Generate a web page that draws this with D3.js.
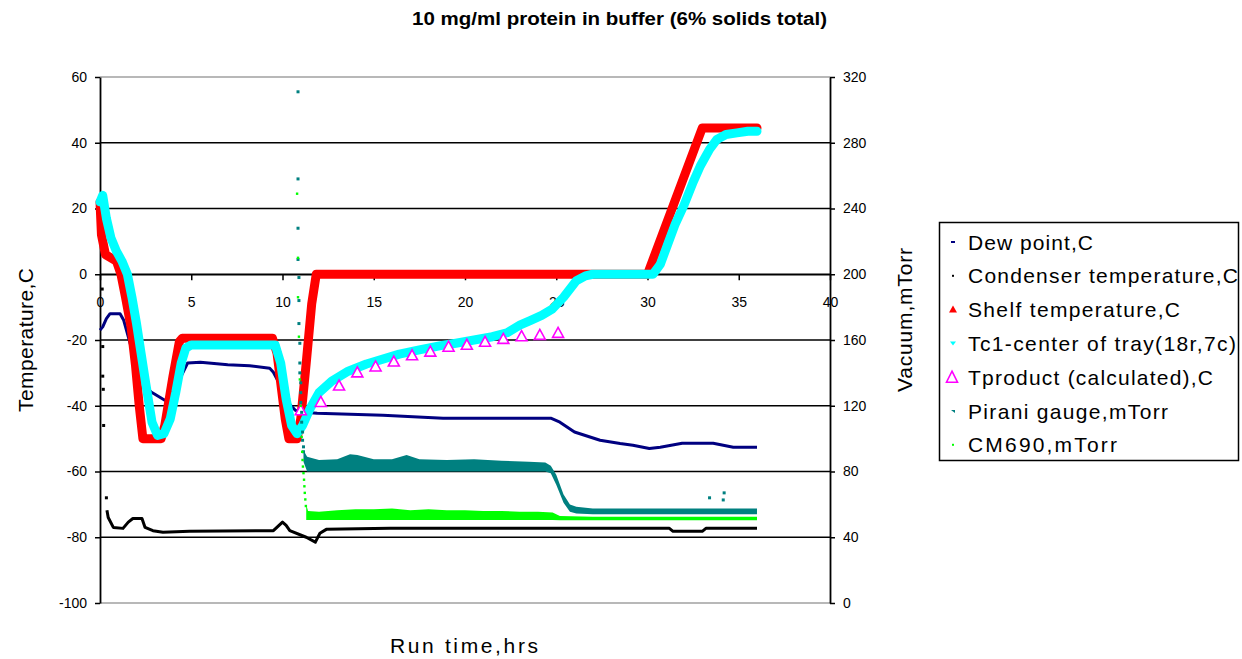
<!DOCTYPE html>
<html>
<head>
<meta charset="utf-8">
<script src="https://cdnjs.cloudflare.com/ajax/libs/d3/7.8.5/d3.min.js"></script>
<style>
  html, body { margin: 0; padding: 0; background: #fff; }
  svg { display: block; font-family: "Liberation Sans", Arial, sans-serif; }
</style>
</head>
<body>
<svg id="chart" width="1242" height="659"></svg>
<script>
// ---- Run data (time in hours) ----
const hourTicks = [0, 5, 10, 15, 20, 25, 30, 35, 40];
const tempTicks = [-100, -80, -60, -40, -20, 0, 20, 40, 60];
const vacTicks  = [0, 40, 80, 120, 160, 200, 240, 280, 320];

// Dew point, C
const dewT = [0, 0.15, 0.35, 0.55, 1.1, 1.3, 1.7, 2.1, 2.45, 2.8, 3.1, 3.55, 3.9, 4.2, 4.45, 4.8, 5.5, 7.0, 8.2, 9.3, 9.5, 9.9, 10.3, 10.7, 11.2, 11.9, 15.5, 18.8, 21.9, 24.7, 25.2, 26.0, 27.4, 28.5, 29.2, 30.1, 30.7, 31.9, 33.6, 34.7, 36.0];
const dewC = [-17, -16, -13.5, -12, -12, -14, -22, -30, -34, -35.8, -36.8, -38.3, -38.5, -35, -31, -27, -26.8, -27.5, -27.8, -28.6, -29.8, -34, -39, -41.4, -42, -42.3, -42.9, -43.8, -43.8, -43.8, -45, -48, -50.5, -51.5, -52, -53, -52.6, -51.4, -51.4, -52.6, -52.6];

// Condenser temperature, C
const condStartT = [0.12, 0.15, 0.15, 0.18, 0.2, 0.35];
const condStartC = [-4.5, -22, -31, -35, -46, -68];
const condT = [0.38, 0.45, 0.73, 1.26, 1.55, 1.8, 2.3, 2.47, 2.9, 3.45, 4.9, 9.5, 10.0, 10.2, 10.4, 11.3, 11.8, 12.05, 12.4, 15.9, 31.2, 31.4, 33.0, 33.2, 36.0];
const condC = [-71.8, -74, -77, -77.3, -75.4, -74.3, -74.3, -77, -78, -78.5, -78.2, -78, -75.4, -76.4, -78, -80, -81.5, -78.8, -77.6, -77.3, -77.3, -78.2, -78.2, -77.3, -77.3];

// Shelf temperature, C
const shelfT = [0, 0.08, 0.3, 0.9, 1.15, 1.4, 1.7, 1.95, 2.15, 2.35, 3.35, 3.55, 4.0, 4.35, 4.5, 9.45, 9.7, 10.15, 10.35, 10.8, 11.0, 11.3, 11.6, 11.85, 30.0, 33.0, 36.0];
const shelfC = [22, 12, 6, 4, 0, -7, -16, -28, -40, -50, -50, -46, -31, -20.5, -19.5, -19.5, -24, -44, -50, -50, -44, -27, -9, 0, 0, 44.5, 44.5];

// Tc1 - center of tray (18r,7c)
const tc1T = [0, 0.15, 0.35, 0.6, 0.9, 1.2, 1.5, 1.75, 2.0, 2.25, 2.5, 2.85, 3.15, 3.5, 3.85, 4.15, 4.45, 4.7, 5.0, 9.6, 9.9, 10.2, 10.5, 10.8, 11.1, 11.5, 12.0, 12.7, 13.6, 14.6, 15.5, 16.4, 17.5, 18.6, 19.5, 20.5, 21.5, 22.3, 23.0, 23.6, 24.2, 24.8, 25.4, 26.1, 26.6, 27.0, 30.3, 30.7, 31.1, 31.5, 32.0, 32.5, 32.9, 33.4, 33.8, 34.3, 34.9, 35.5, 36.0];
const tc1C = [22, 24, 17, 11, 7, 4, 0, -7, -15, -24, -33, -45, -49, -48.5, -44, -36, -27, -22.5, -21.5, -21.5, -27, -38, -46, -48.5, -46, -41, -36, -32.5, -29.5, -27.3, -25.8, -24.3, -23, -21.8, -21, -20, -19, -17.8, -15.5, -14, -12.5, -10.5, -7, -2, -0.5, 0, 0, 3, 9, 15, 21, 28, 33, 38, 41, 42.5, 43, 43.5, 43.5];

// Tproduct (calculated), C
const tprodT = [11.0, 12.1, 13.1, 14.1, 15.1, 16.1, 17.1, 18.1, 19.1, 20.1, 21.1, 22.1, 23.1, 24.1, 25.1];
const tprodC = [-41.5, -39, -34, -30, -28.2, -26.7, -24.8, -23.7, -22.2, -21.6, -20.7, -19.8, -19, -18.6, -18];

// Pirani gauge, mTorr (band: low / high readings)
const piraniT  = [11.15, 11.35, 12.0, 13.0, 13.7, 14.1, 15.0, 16.0, 16.8, 17.5, 19.0, 20.5, 22.0, 23.5, 24.4, 24.7, 25.0, 25.4, 25.75, 26.1, 27.0, 30.0, 33.0, 36.0];
const piraniHi = [93, 89, 87, 87.5, 90.5, 90, 87.5, 87.5, 90, 87.5, 87, 87.5, 86.5, 86, 85.5, 83.5, 78, 66, 60, 58.5, 57.5, 57.5, 57.5, 57.5];
const piraniLo = [86, 80, 80, 80, 80, 80, 80, 80, 80, 80, 80, 80, 80, 80, 80, 79, 72, 61, 55.5, 54.5, 54, 54, 54, 54];
const piraniDotT = [10.85, 10.85, 10.85, 10.85, 10.9, 10.9, 10.9, 10.95, 10.95, 10.95, 11.0, 11.0, 11.0, 11.05, 11.05, 11.1, 11.1, 11.15, 11.15, 33.4, 34.2, 34.15];
const piraniDotV = [311, 258, 228, 209, 198, 184, 170, 158, 146, 140, 134, 128, 122, 116, 110, 104, 99, 95, 92, 64, 67, 62.7];

// CM690, mTorr
const cmT  = [11.3, 11.4, 12.0, 13.0, 14.0, 15.0, 16.0, 17.0, 18.0, 19.0, 20.0, 21.0, 22.0, 23.0, 24.0, 24.8, 25.2, 27.0, 30.0, 33.0, 36.0];
const cmHi = [60, 56, 55.5, 56.5, 57, 57, 57.5, 56.5, 57, 56.5, 56.5, 56, 56, 55.5, 55.5, 55, 53, 52.5, 52.5, 52.5, 52.5];
const cmLo = [50.5, 50.5, 50.5, 50.5, 50.5, 50.5, 50.5, 50.5, 50.5, 50.5, 50.5, 50.5, 50.5, 50.5, 50.5, 50.5, 50.3, 50.3, 50.3, 50.3, 50.3];
const cmDotT = [10.8, 10.85, 10.85, 10.9, 10.95, 11.0, 11.05, 11.08, 11.1, 11.12, 11.15, 11.18, 11.2, 11.22, 11.25, 11.28];
const cmDotV = [249, 210, 186, 162, 136, 120, 101, 92, 87, 83, 79, 75, 71, 67, 63, 59];

const legendItems = [
  { label: "Dew point,C",                 color: "#000080", kind: "dash",   width: 125 },
  { label: "Condenser temperature,C",     color: "#000000", kind: "dot",    width: 270 },
  { label: "Shelf temperature,C",         color: "#ff0000", kind: "tri",    width: 212 },
  { label: "Tc1-center of tray(18r,7c)",  color: "#00ffff", kind: "itri",   width: 268 },
  { label: "Tproduct (calculated),C",     color: "#ff00ff", kind: "open",   width: 245 },
  { label: "Pirani gauge,mTorr",          color: "#008080", kind: "small",  width: 200 },
  { label: "CM690,mTorr",                 color: "#00ff00", kind: "dot",    width: 149 }
];

// ---- Layout ----
const W = 1242, H = 659;
const svg = d3.select("#chart");
svg.append("rect").attr("width", W).attr("height", H).attr("fill", "#fff");

const x  = d3.scaleLinear().domain([0, 40]).range([100, 830]);
const yT = d3.scaleLinear().domain([-100, 60]).range([603, 77]);
const yV = d3.scaleLinear().domain([0, 320]).range([603, 77]);

const zip = (a, b) => a.map((v, i) => [v, b[i]]);
const FONT = '"Liberation Sans", Arial, sans-serif';

// Horizontal gridlines
svg.append("g").selectAll("line").data(tempTicks).join("line")
  .attr("x1", x(0)).attr("x2", x(40))
  .attr("y1", d => yT(d)).attr("y2", d => yT(d))
  .attr("stroke", d => (d === 60 || d === -100) ? "#a0a0a0" : "#000")
  .attr("stroke-width", 1.6);

// Axes
function styleAxis(g) {
  g.attr("font-size", 14).attr("font-family", FONT);
  g.selectAll("text").attr("fill", "#000");
  g.selectAll("line").attr("stroke", "#000").attr("stroke-width", 1.5);
  g.select(".domain").attr("stroke", "#000").attr("stroke-width", 1.8);
}
svg.append("g").attr("transform", `translate(${x(0)},0)`)
  .call(d3.axisLeft(yT).tickValues(tempTicks).tickSize(5).tickSizeOuter(0).tickPadding(8).tickFormat(d => String(d)))
  .call(styleAxis);
svg.append("g").attr("transform", `translate(${x(40)},0)`)
  .call(d3.axisRight(yV).tickValues(vacTicks).tickSize(5).tickSizeOuter(0).tickPadding(8).tickFormat(d => String(d)))
  .call(styleAxis);
svg.append("g").attr("transform", `translate(0,${yT(0)})`)
  .call(d3.axisBottom(x).tickValues(hourTicks).tickSize(6).tickSizeOuter(0).tickPadding(17).tickFormat(d => String(d)))
  .call(styleAxis)
  .call(g => g.select(".domain").attr("stroke-width", 1.6));

// ---- Series ----
const lineT = d3.line().x(d => x(d[0])).y(d => yT(d[1]));
const areaV = d3.area().x(d => x(d[0])).y0(d => yV(d[1])).y1(d => yV(d[2]));

// Dew point
svg.append("path").attr("d", lineT(zip(dewT, dewC)))
  .attr("fill", "none").attr("stroke", "#000080").attr("stroke-width", 3).attr("stroke-linejoin", "round");

// Condenser
svg.append("path").attr("d", lineT(zip(condT, condC)))
  .attr("fill", "none").attr("stroke", "#000").attr("stroke-width", 3).attr("stroke-linejoin", "round");
svg.append("g").selectAll("rect").data(zip(condStartT, condStartC)).join("rect")
  .attr("x", d => x(d[0]) - 1.5).attr("y", d => yT(d[1]) - 1.5)
  .attr("width", 3).attr("height", 3).attr("fill", "#000");

// Shelf temperature
svg.append("path").attr("d", lineT(zip(shelfT, shelfC)))
  .attr("fill", "none").attr("stroke", "#ff0000").attr("stroke-width", 9)
  .attr("stroke-linejoin", "round").attr("stroke-linecap", "round");

// Tc1
svg.append("path").attr("d", lineT(zip(tc1T, tc1C)))
  .attr("fill", "none").attr("stroke", "#00ffff").attr("stroke-width", 9)
  .attr("stroke-linejoin", "round").attr("stroke-linecap", "round");

// Tproduct triangles
const triPath = "M0,-6L5.5,4L-5.5,4Z";
svg.append("g").selectAll("path").data(zip(tprodT, tprodC)).join("path")
  .attr("d", triPath)
  .attr("transform", d => `translate(${x(d[0])},${yT(d[1])})`)
  .attr("fill", "#fff").attr("stroke", "#ff00ff").attr("stroke-width", 1.6);

// Pirani gauge
svg.append("path")
  .attr("d", areaV(piraniT.map((t, i) => [t, piraniLo[i], piraniHi[i]])))
  .attr("fill", "#008080");
svg.append("g").selectAll("rect").data(zip(piraniDotT, piraniDotV)).join("rect")
  .attr("x", d => x(d[0]) - 1.5).attr("y", d => yV(d[1]) - 1.5)
  .attr("width", 3).attr("height", 3).attr("fill", "#008080");

// CM690
svg.append("path")
  .attr("d", areaV(cmT.map((t, i) => [t, cmLo[i], cmHi[i]])))
  .attr("fill", "#00ff00");
svg.append("g").selectAll("rect").data(zip(cmDotT, cmDotV)).join("rect")
  .attr("x", d => x(d[0]) - 1.2).attr("y", d => yV(d[1]) - 1.2)
  .attr("width", 2.4).attr("height", 2.4).attr("fill", "#00ff00");

// ---- Titles ----
svg.append("text").attr("x", 619.5).attr("y", 25).attr("text-anchor", "middle")
  .attr("font-size", 18).attr("font-weight", "bold").attr("font-family", FONT)
  .attr("textLength", 415).attr("lengthAdjust", "spacingAndGlyphs")
  .text("10 mg/ml protein in buffer (6%  solids total)");

svg.append("text").attr("transform", "translate(33,340) rotate(-90)").attr("text-anchor", "middle")
  .attr("font-size", 21).attr("font-family", FONT)
  .attr("textLength", 144).attr("lengthAdjust", "spacing")
  .text("Temperature,C");

svg.append("text").attr("transform", "translate(912,320) rotate(-90)").attr("text-anchor", "middle")
  .attr("font-size", 21).attr("font-family", FONT)
  .attr("textLength", 144).attr("lengthAdjust", "spacing")
  .text("Vacuum,mTorr");

svg.append("text").attr("x", 464).attr("y", 653).attr("text-anchor", "middle")
  .attr("font-size", 21).attr("font-family", FONT)
  .attr("textLength", 148).attr("lengthAdjust", "spacing")
  .text("Run time,hrs");

// ---- Legend ----
const lg = svg.append("g");
lg.append("rect").attr("x", 939.5).attr("y", 222.5).attr("width", 299).attr("height", 238)
  .attr("fill", "#fff").attr("stroke", "#000").attr("stroke-width", 1.5);

const rows = lg.selectAll("g.item").data(legendItems).join("g")
  .attr("class", "item")
  .attr("transform", (d, i) => `translate(0,${242 + i * 33.8})`);

rows.each(function (d) {
  const g = d3.select(this);
  if (d.kind === "dash") {
    g.append("rect").attr("x", 951).attr("y", -1).attr("width", 4).attr("height", 2).attr("fill", d.color);
  } else if (d.kind === "dot") {
    g.append("rect").attr("x", 952).attr("y", -1).attr("width", 2).attr("height", 2).attr("fill", d.color);
  } else if (d.kind === "tri") {
    g.append("path").attr("d", "M953,-4L957,3L949,3Z").attr("fill", d.color);
  } else if (d.kind === "itri") {
    g.append("path").attr("d", "M950,-2L956,-2L953,2Z").attr("fill", d.color);
  } else if (d.kind === "open") {
    g.append("path").attr("d", "M952,-6L957.5,5L946.5,5Z").attr("fill", "#fff")
      .attr("stroke", d.color).attr("stroke-width", 1.6);
  } else if (d.kind === "small") {
    g.append("path").attr("d", "M951,-1L955,-1L955,2Z").attr("fill", d.color);
  }
  g.append("text").attr("x", 968).attr("y", 7.5)
    .attr("font-size", 21).attr("font-family", FONT)
    .attr("textLength", d.width).attr("lengthAdjust", "spacing")
    .text(d.label);
});
</script>
</body>
</html>
